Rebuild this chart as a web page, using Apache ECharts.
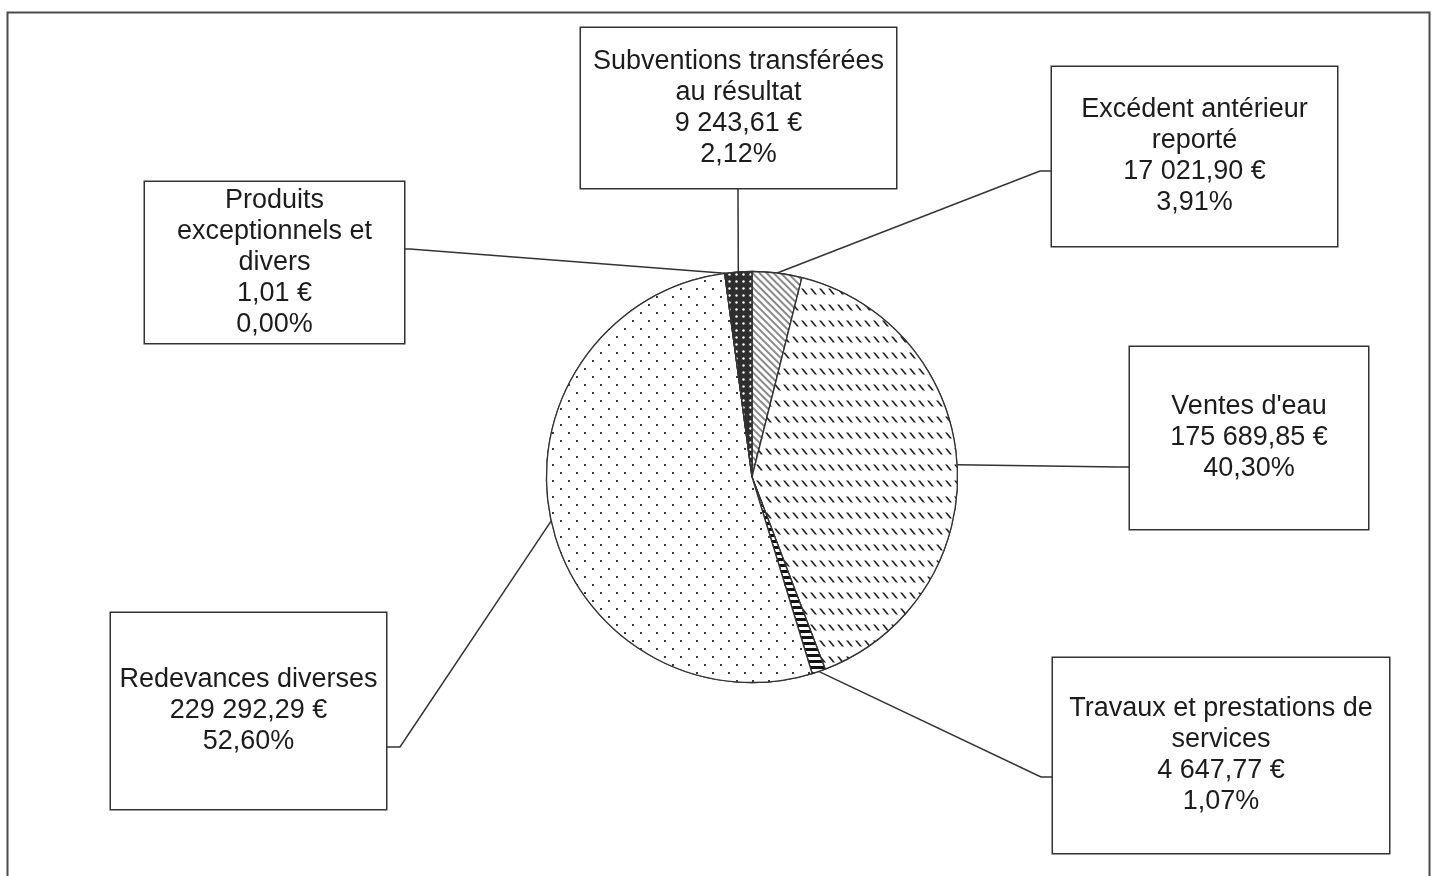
<!DOCTYPE html>
<html>
<head>
<meta charset="utf-8">
<script src="https://cdn.jsdelivr.net/npm/echarts@6/dist/echarts.min.js"></script>
<style>
html,body{margin:0;padding:0;background:#fff;}
#chart{width:1437px;height:876px;}
</style>
</head>
<body>
<div id="chart"></div>
<script>
// ---- data (clockwise from 12 o'clock) ----
const categories = [
  "Excédent antérieur\nreporté",
  "Ventes d'eau",
  "Travaux et prestations de\nservices",
  "Redevances diverses",
  "Produits\nexceptionnels et\ndivers",
  "Subventions transférées\nau résultat"
];
const values = [17021.90, 175689.85, 4647.77, 229292.29, 1.01, 9243.61];
const percentLabels = ["3,91%", "40,30%", "1,07%", "52,60%", "0,00%", "2,12%"];

// ---- layout (label boxes: left, top, width, height, text offset; leader bend/end points) ----
const boxes = [
  {l:1052, t:67,  w:285, h:179, off:3,   bend:[1040,171], end:[1052,171]},
  {l:1130, t:347, w:238, h:182, off:1.5, bend:[1118,467], end:[1130,467]},
  {l:1053, t:658, w:336, h:195, off:3,   bend:[1041,777], end:[1053,777]},
  {l:111,  t:613, w:275, h:196, off:3.5, bend:[400,747],  end:[386,747]},
  {l:145,  t:182, w:259, h:161, off:1.5, bend:[410,249],  end:[404,249]},
  {l:581,  t:28,  w:315, h:160, off:0.5, bend:[738,200],  end:[738,188]}
];

const styles = [
  {color:'#ffffff', decal:{symbol:'rect', color:'#8a8a8a', backgroundColor:'#ffffff', dashArrayX:[1,0], dashArrayY:[1.2,2.6], rotation:Math.PI/4}},
  {color:'#ffffff', decal:{symbol:'path://M0,0L2.4,0L8,7L5.6,7Z', color:'#1e1e1e', backgroundColor:'#ffffff', dashArrayX:[7,2], dashArrayY:[7,9], symbolSize:1}},
  {color:'#ffffff', decal:{symbol:'rect', color:'#111', backgroundColor:'#ffffff', dashArrayX:[1,0], dashArrayY:[3,3]}},
  {color:'#ffffff', decal:{symbol:'rect', color:'#3a3a3a', backgroundColor:'#ffffff', dashArrayX:[[2,14],[0,8,2,6]], dashArrayY:[2,6], symbolSize:1}},
  {color:'#ffffff'},
  {color:'#2e2e2e', decal:{symbol:'circle', color:'#ffffff', backgroundColor:'#2e2e2e', dashArrayX:[3,4], dashArrayY:[3,4], symbolSize:0.8}}
];

const LINE_H = 31;

function fmtEuro(v){
  const parts = v.toFixed(2).split('.');
  return parts[0].replace(/\B(?=(\d{3})+(?!\d))/g, ' ') + ',' + parts[1] + ' €';
}

const pieData = categories.map(function(name, i){
  const nLines = name.split('\n').length + 2;
  const b = boxes[i];
  const textH = nLines * LINE_H;
  const spare = b.h - textH;
  const pb = Math.max(0, spare/2 - b.off);
  const pt = spare - pb;
  const item = {
    name: name,
    value: values[i],
    itemStyle: {color: styles[i].color},
    label: {width: b.w, padding: [pt, 0, pb, 0]}
  };
  if (styles[i].decal) item.itemStyle.decal = styles[i].decal;
  return item;
});

const chart = echarts.init(document.getElementById('chart'), null, {renderer:'canvas'});
chart.setOption({
  backgroundColor: '#ffffff',
  animation: false,
  graphic: [{
    type: 'rect',
    shape: {x: 7.5, y: 12.5, width: 1422, height: 900},
    style: {fill: 'none', stroke: '#4a4a4a', lineWidth: 2},
    silent: true
  }],
  series: [{
    type: 'pie',
    center: [752, 477],
    radius: 205.5,
    startAngle: 90,
    clockwise: true,
    avoidLabelOverlap: false,
    minShowLabelAngle: 0,
    itemStyle: {borderColor: '#333', borderWidth: 1.3},
    label: {
      show: true,
      position: 'outside',
      fontFamily: 'Liberation Sans, Arial, sans-serif',
      fontSize: 27,
      lineHeight: LINE_H,
      color: '#1c1c1c',
      backgroundColor: '#ffffff',
      borderColor: '#333',
      borderWidth: 1.5,
      align: 'center',
      formatter: function(p){
        return p.name + '\n' + fmtEuro(values[p.dataIndex]) + '\n' + percentLabels[p.dataIndex];
      }
    },
    labelLine: {show: true, length: 10, length2: 10, lineStyle: {color: '#333', width: 1.5}},
    emphasis: {disabled: true},
    labelLayout: function(params){
      const i = params.dataIndex;
      const b = boxes[i];
      const start = (params.labelLinePoints && params.labelLinePoints[0]) ? params.labelLinePoints[0] : b.bend;
      return {
        x: b.l + b.w/2,
        y: b.t + b.h/2,
        align: 'center',
        verticalAlign: 'middle',
        labelLinePoints: [start, b.bend, b.end]
      };
    },
    data: pieData
  }]
});
</script>
</body>
</html>
